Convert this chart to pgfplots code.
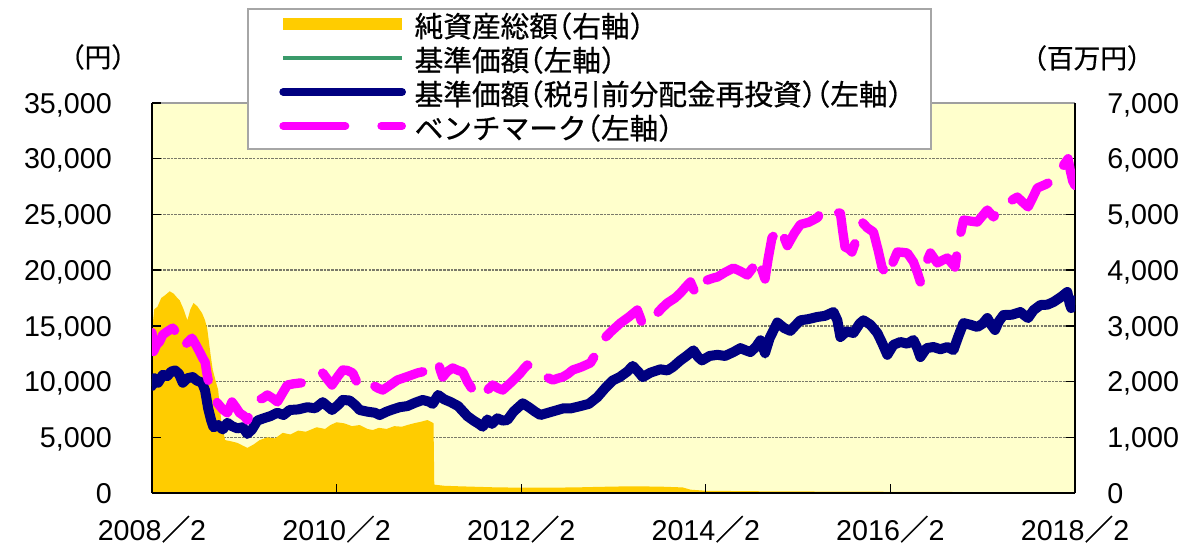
\documentclass[border=0pt]{standalone}
\usepackage{pgfplots}
\pgfplotsset{compat=1.18}
\usepackage{pgfplotstable}
\usepackage{fontspec}
\setmainfont{Liberation Sans}
\newfontfamily\cjk{Noto Sans CJK JP}[FakeBold=0.6]
\newfontfamily\cjkh{Noto Sans CJK JP}[FakeBold=0.6, CharacterWidth=AlternateHalf]
\definecolor{bgyellow}{HTML}{FFFFCC}
\definecolor{gold}{HTML}{FFCC00}
\definecolor{navyc}{HTML}{000080}
\definecolor{magc}{HTML}{FF00FF}
\definecolor{greenc}{HTML}{3A9A6A}
\definecolor{gridc}{HTML}{7A7A6A}

\pgfplotstableread{
m v
0 2900
0.3 3300
0.7 3340
1.2 3500
1.7 3550
2.3 3620
2.8 3580
3.3 3500
3.6 3460
4.1 3300
4.6 3100
5.0 3300
5.4 3410
5.9 3350
6.5 3230
6.9 3100
7.2 2930
7.6 2500
7.9 2210
8.3 2000
8.6 1850
9.0 1300
9.5 950
10.2 930
11.1 900
11.8 850
12.4 810
13.2 870
14.0 950
15.0 1000
16.0 980
17.0 1080
18.0 1050
19.0 1120
20.0 1100
21.4 1180
22.5 1150
23.2 1220
24.0 1270
25.0 1250
26.0 1200
27.0 1220
28.0 1150
28.7 1130
29.5 1170
30.5 1150
31.5 1200
32.5 1190
33.2 1220
34.0 1250
35.0 1280
35.8 1310
36.4 1270
36.6 1250
36.7 150
38 130
40 120
45 100
50 95
55 100
58 110
62 120
66 115
69 100
70 60
72 40
80 30
90 25
100 20
110 15
120 15
}\assets

\pgfplotstableread{
m v
0 9600
0.3 10300
0.8 9900
1.4 10600
2.0 10500
2.5 10900
3.0 11000
3.5 10700
4.0 9900
4.6 10300
5.3 10400
5.8 10100
6.5 9900
6.9 9200
7.3 7600
7.7 6500
8.0 5900
8.6 6100
9.2 5700
9.8 6300
10.4 6000
11.1 5800
11.8 5900
12.4 5300
13.0 5700
13.7 6500
14.5 6700
15.4 6900
16.3 7200
17.1 7000
17.9 7450
19.0 7500
20.2 7700
21.2 7600
22.2 8150
22.8 7800
23.4 7450
24.2 7900
24.8 8350
25.7 8300
26.4 7900
27.0 7450
28.0 7300
29.0 7200
29.6 7000
30.5 7300
31.3 7500
32.2 7700
33.2 7800
34.2 8100
35.2 8350
36.0 8200
36.5 8000
37.2 8800
38.0 8400
38.8 8170
39.8 7800
41.0 6900
41.8 6500
42.5 6200
43.0 5950
43.6 6600
44.2 6200
44.9 6700
45.6 6500
46.2 6550
47.0 7300
48.2 8050
49.0 7700
49.8 7300
50.5 7000
51.5 7200
52.5 7400
53.5 7600
54.5 7600
55.7 7800
56.8 8000
57.9 8600
58.9 9400
59.9 10100
60.8 10400
61.8 10900
62.5 11400
63.2 10900
63.8 10400
64.8 10800
66.1 11100
67.0 11000
67.7 11300
68.7 11900
69.5 12300
70.4 12800
71.0 12200
71.5 11900
72.5 12300
73.5 12400
74.5 12300
75.6 12650
76.5 13000
77.2 12800
77.8 12650
78.5 13100
79.1 13700
79.7 12560
80.3 13900
81.3 15300
82.2 14800
83.0 14550
83.6 15000
84.3 15500
85.3 15600
86.5 15800
87.5 15900
88.6 16240
89.1 15500
89.5 14000
90.3 14500
91.2 14360
92.0 15200
92.5 15500
93.4 15100
94.3 14360
94.9 13500
95.6 12400
96.4 13300
97.3 13550
98.2 13400
99.0 13730
99.5 13000
99.9 12200
100.7 13000
101.6 13100
102.5 12900
103.4 13100
104.2 12830
104.8 14000
105.5 15250
106.4 15100
107.3 14900
108.0 15200
108.6 15700
109.1 15100
109.6 14630
110.1 15400
110.7 15970
111.8 16000
112.9 16240
113.5 15900
113.9 15700
114.6 16400
115.5 16870
116.4 16900
117.2 17140
118.2 17600
119.0 18040
119.3 17000
119.5 16600
120 17300
}\nav

\pgfplotstableread{
m v
0 14400
0.2 12700
0.6 13300
1.0 13600
1.4 14200
2.0 14500
2.7 14800
3.3 14300
4.0 13100
4.6 13500
5.2 13900
5.7 13300
6.2 12650
6.6 12100
6.9 11760
7.2 10500
7.5 9500
8.0 8800
8.5 8080
9.2 7500
9.8 7180
10.4 8170
10.9 7700
11.4 7180
12.0 6900
12.4 6550
13.0 7700
13.7 8350
14.4 8500
15.0 8800
15.7 8500
16.3 8170
17.0 9000
17.6 9690
18.4 9800
19.2 9870
20.0 9900
20.9 10140
21.6 10400
22.2 10770
22.8 10200
23.4 9690
24.2 10500
24.8 11040
25.4 11000
26.1 10770
26.6 10000
27.0 9420
27.8 9700
28.7 9690
29.4 9400
30.0 9240
31.0 9700
31.9 10140
33.0 10400
34.5 10770
35.3 10900
36.2 11040
36.8 11500
37.2 11760
37.5 11000
37.8 10410
38.4 10900
39.1 11220
39.8 11000
40.4 10860
41.0 10000
41.7 9240
42.3 8900
43.0 8620
43.7 9300
44.3 9690
45.0 9400
45.6 9240
46.8 10000
47.9 10770
48.4 11200
48.8 11490
49.5 11200
50.1 10860
51.0 10500
52.1 10140
52.8 10300
53.4 10410
54.1 10700
54.7 11040
55.8 11300
57.0 11670
57.8 12600
58.6 13730
59.7 14500
60.9 15250
62.0 15800
63.1 16420
63.5 15700
63.8 15070
64.7 15600
65.7 16150
66.3 16600
67.0 17050
68.0 17500
68.7 17950
69.4 18500
70.0 18940
70.4 18300
70.8 17770
71.5 18500
72.2 19110
73.0 19300
73.5 19380
74.5 19800
75.6 20190
76.5 19900
77.4 19560
78.2 20300
78.8 21090
79.2 20200
79.7 19200
80.1 21000
80.6 22900
81.2 23400
81.7 23870
82.2 22900
82.6 22200
83.5 23300
84.3 24100
85.4 24300
86.5 24700
87.3 25500
88.4 25300
89.5 25100
89.8 23500
90.1 22080
90.6 21900
91.0 21630
91.7 23000
92.3 24320
93.0 23800
93.8 23420
94.4 21800
94.9 20280
95.6 19380
96.2 20500
96.9 21630
97.5 21600
98.2 21540
99.0 20730
99.5 19800
99.9 18930
100.5 20400
101.2 21540
102.1 20640
102.8 20900
103.4 21090
104.0 20600
104.4 20280
104.8 22250
105.5 24500
106.4 24400
107.3 24320
108.0 24900
108.6 25400
109.4 24770
110.0 25300
110.7 25850
111.6 26200
112.5 26560
113.2 26100
113.9 25670
114.5 26500
115.1 27370
116.2 27700
117.2 28090
118.1 29000
119.1 30000
119.4 28900
119.7 28000
120 27600
}\bench

\begin{document}
\begin{tikzpicture}
\pgfplotsset{
  common/.style={
    width=692.25pt, height=292.5pt, scale only axis,
    xmin=0, xmax=120,
    tick align=inside, major tick length=7pt,
    tick style={black, line width=1pt},
    scaled y ticks=false,
    /pgf/number format/.cd, fixed, 1000 sep={,}, assume math mode=true, /pgfplots/.cd,
    tick label style={font=\fontsize{21.5}{24}\selectfont},
  }
}
% right axis: net assets
\begin{axis}[common,
  ymin=0, ymax=7000,
  axis x line*=top, axis y line*=right,
  x axis line style={draw=gray!75, line width=1.5pt},
  y axis line style={draw=black, line width=2.2pt},
  xtick=\empty,
  ytick={0,1000,...,7000},
  ymajorgrids,
  major grid style={draw=gridc, line width=1pt, dash pattern=on 2pt off 0.8pt},
  axis background/.style={fill=bgyellow},
  yticklabel style={anchor=base west, inner sep=0pt, xshift=24pt, yshift=-7.7pt},
]
\addplot[fill=gold, draw=none] table[x=m, y=v] {\assets} \closedcycle;
\end{axis}
% left axis: NAV and benchmark
\begin{axis}[common,
  ymin=0, ymax=35000,
  axis x line*=bottom, axis y line*=left,
  axis line style={draw=black, line width=2.2pt},
  xtick={0,24,48,72,96,120},
  xticklabels={2008{\cjk ／}2,2010{\cjk ／}2,2012{\cjk ／}2,2014{\cjk ／}2,2016{\cjk ／}2,2018{\cjk ／}2},
  ytick={0,5000,...,35000},
  xticklabel style={anchor=base, inner sep=0pt, yshift=-35.25pt},
  yticklabel style={anchor=base east, inner sep=0pt, xshift=-30pt, yshift=-7.7pt},
  legend image code/.code={\draw[#1] (0pt,3pt) -- (89pt,3pt);},
  legend cell align=left,
  legend style={at={(0.1029,1.2436)}, anchor=north west,
    draw=gray!70, line width=1.5pt, fill=white,
    font=\cjkh\fontsize{21.5}{23}\selectfont,
    inner xsep=22pt, inner ysep=1.5pt, row sep=0pt,
    nodes={inner sep=0pt, text height=19.5pt, text depth=6pt},
    /tikz/every odd column/.append style={column sep=5pt}},
]
\coordinate (O) at (rel axis cs:0,0);
\addlegendimage{draw=gold, line width=9pt, line cap=butt}
\addlegendentry{純資産総額（右軸）}
\addplot[draw=greenc, line width=3pt, no markers] table[x=m, y=v] {\nav};
\addlegendentry{基準価額（左軸）}
\addplot[draw=navyc, line width=7.5pt, line cap=round, line join=round, no markers,
  legend image post style={line width=6pt}] table[x=m, y=v] {\nav};
\addlegendentry{基準価額（税引前分配金再投資）（左軸）}
\addplot[draw=magc, line width=7pt, line cap=round, line join=round, dash pattern=on 40pt off 18pt, no markers,
  legend image post style={line width=6pt, dash pattern=on 46.5pt off 27pt}] table[x=m, y=v] {\bench};
\addlegendentry{ベンチマーク（左軸）}
\end{axis}
\path (O) ++(-40.5pt,327pt) node[font=\cjk\fontsize{20}{22}\selectfont, inner sep=0pt] {（円）};
\path (O) ++(701.25pt,326.25pt) node[font=\cjk\fontsize{20}{22}\selectfont, inner sep=0pt] {（百万円）};
\pgfresetboundingbox
\path (O) ++(-114pt,-39.75pt) rectangle ++(898.5pt,409.5pt);
\end{tikzpicture}
\end{document}
